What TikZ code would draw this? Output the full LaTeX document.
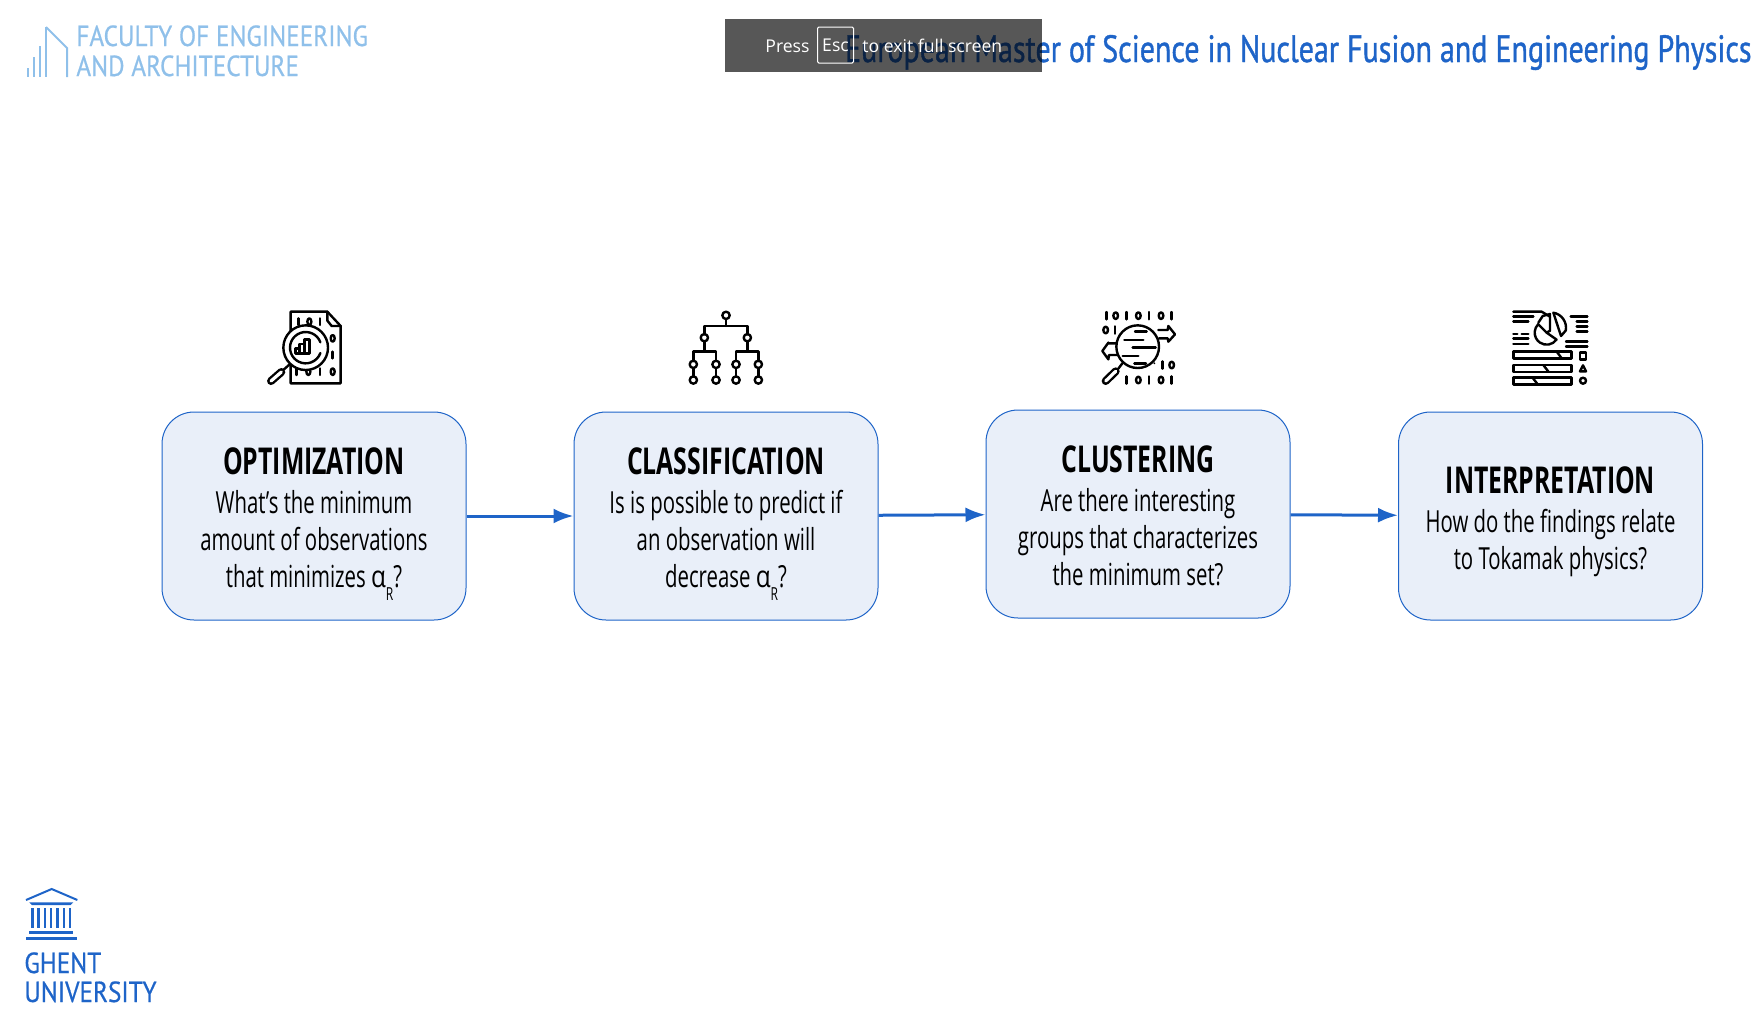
\documentclass[tikz,border=0pt]{standalone}
\usepackage{fontspec}
\usepackage{tikz}
\usetikzlibrary{arrows.meta,positioning}
\setmainfont{Open Sans}[FakeStretch=0.67]
\newfontfamily\PlainFont{Open Sans}
\newfontfamily\AlphaFont{Open Sans}[FakeStretch=0.8]
\newfontfamily\BrandFont{PT Sans}[FakeStretch=0.87,FakeBold=0.6]
\newfontfamily\TitleFont{PT Sans}[FakeStretch=0.79,FakeBold=1]
\definecolor{UGentBlue}{HTML}{1E64C8}
\definecolor{UGentSky}{HTML}{8FC0EA}
\definecolor{BoxFill}{HTML}{E9EFF9}
\newcommand{\AlphaR}{{\AlphaFont α}\smash{\raisebox{-6.5pt}{\fontsize{9}{9}\selectfont R}}}
\newcommand{\BoxHead}[1]{{\rule{0pt}{15.2pt}\fontsize{18.5}{18.4}\selectfont\bfseries #1}}

\begin{document}
\begin{tikzpicture}[x=.5pt,y=-.5pt]
	\tikzstyle{Box}		= [rectangle, rounded corners=16pt, draw=UGentBlue, line width=.5pt, fill=BoxFill, minimum width=152pt, minimum height=104pt, inner sep=0pt, align=center, font=\fontsize{15.2}{18.4}\selectfont]
	\tikzstyle{Flow}	= [-{Latex[length=10pt,width=7.5pt]}, line width=1.5pt, UGentBlue]
	\tikzstyle{IconGrid}	= [x=.1667pt, y=-.1667pt]
	\tikzstyle{Icon}	= [line width=1.2pt, black, line cap=round, line join=round]
	\tikzstyle{Brand}	= [anchor=base west, inner sep=0pt, font=\BrandFont\fontsize{14.5}{15}\selectfont, text=UGentSky]
	\tikzstyle{Hint}	= [anchor=base west, inner sep=0pt, text=white, font=\PlainFont\fontsize{8.8}{10}\selectfont]

	\useasboundingbox (0,0) rectangle (1763,1019);

	% steps
	\node (OptBox) at (314,516) [Box] {\BoxHead{OPTIMIZATION}\\[1pt]What’s the minimum\\amount of observations\\that minimizes \AlphaR?};
	\node (ClassBox) at (726,516) [Box] {\BoxHead{CLASSIFICATION}\\[1pt]Is is possible to predict if\\an observation will\\decrease \AlphaR?};
	\node (ClustBox) at (1138,514) [Box] {\BoxHead{CLUSTERING}\\[1pt]Are there interesting\\groups that characterizes\\the minimum set?};
	\node (InterpBox) at (1550.5,516) [Box] {\rule{0pt}{19pt}\BoxHead{INTERPRETATION}\\[1pt]How do the findings relate\\to Tokamak physics?};
	\draw [Flow] (OptBox) -- (ClassBox);
	\draw [Flow] (ClassBox) -- (ClustBox);
	\draw [Flow] (ClustBox) -- (InterpBox);

	% header
	\node (Title) at (1752,62) [anchor=base east, inner sep=0pt, text=UGentBlue, font=\TitleFont\fontsize{19}{20}\selectfont] {European Master of Science in Nuclear Fusion and Engineering Physics};
	\node (Faculty) at (76,46) [Brand] {FACULTY OF ENGINEERING};
	\node (Arch) at (76,76) [Brand] {AND ARCHITECTURE};
	\draw [UGentSky, line width=1pt] (46,27) -- (67,48) -- (67,77);
	\foreach \x/\y in {28/68, 34/57, 40/46, 46/27}
		\draw [UGentSky, line width=1.2pt] (\x,\y) -- (\x,77);

	% university logo
	\node (Ghent) at (24,973) [Brand, text=UGentBlue] {GHENT};
	\node (Univ) at (24,1002) [Brand, text=UGentBlue] {UNIVERSITY};
	\begin{scope}[shift={(0,870)},IconGrid]
		\draw [UGentBlue, line width=1pt] (78,90) -- (155,57) -- (232,90);
		\fill [UGentBlue] (88,97) -- (220,97) -- (212,105) -- (96,105) -- cycle;
		\foreach \x in {97,115,134,153,172,191,209}
			\fill [UGentBlue] (\x-3.5,115) rectangle (\x+3.5,175);
		\fill [UGentBlue] (88,183) rectangle (220,191);
		\fill [UGentBlue] (78,201) rectangle (232,209);
	\end{scope}

	% icon: report under a lens
	\begin{scope}[shift={(250,300)},IconGrid,Icon]
		\draw (122,250) -- (122,35) -- (232,35) -- (272,78) -- (272,250) -- cycle;
		\draw (232,35) -- (232,62) -- (245,78) -- (272,78);
		\foreach \x/\y in {145/65, 210/65, 248/165, 140/215, 210/215}
			\draw (\x,\y-10) -- (\x,\y+10);
		\foreach \x/\y in {178/65, 248/115, 175/215, 248/215}
			\draw (\x,\y) ellipse (6 and 10);
		\draw [fill=white] (167,143) circle (67);
		\draw (167,143) ++(-20:47) arc[start angle=-20, end angle=-340, radius=47];
		\draw (136,160) rectangle (148,145) (148,160) rectangle (163,132) (163,160) rectangle (178,118);
		\draw (120,192) -- (102,208);
		\draw [line width=4pt] (94,216) -- (63,243);
		\draw [white, line width=1.6pt] (94,216) -- (63,243);
	\end{scope}

	% icon: tree
	\begin{scope}[shift={(670,300)},IconGrid,Icon]
		\draw (168,57) -- (168,78);
		\draw (103,103) -- (103,78) -- (232,78) -- (232,103);
		\draw (103,124) -- (103,155);
		\draw (232,124) -- (232,155);
		\draw (70,183) -- (70,155) -- (138,155) -- (138,183);
		\draw (198,183) -- (198,155) -- (265,155) -- (265,183);
		\foreach \x in {70,138,198,265} {
			\draw (\x,204) -- (\x,229);
			\draw (\x,193) circle (11);
			\draw (\x,240) circle (11);
		}
		\foreach \x/\y in {168/46, 103/113, 232/113}
			\draw (\x,\y) circle (11);
	\end{scope}

	% icon: clusters under a lens
	\begin{scope}[shift={(1085,300)},IconGrid,Icon]
		\foreach \x/\y in {65/47, 125/47, 192/47, 260/47, 90/90, 232/195, 125/240, 192/240, 260/240}
			\draw (\x,\y-11) -- (\x,\y+11);
		\foreach \x/\y in {92/47, 160/47, 228/47, 62/90, 260/195, 160/240, 228/240}
			\draw (\x,\y) ellipse (7 and 10);
		\draw (220,90) -- (248,90) -- (250,78) -- (270,103) -- (250,125) -- (248,115) -- (222,115);
		\draw (98,130) -- (72,130) -- (70,128) -- (52,153) -- (70,178) -- (72,165) -- (100,165);
		\draw [fill=white] (158,140) circle (64);
		\foreach \a/\b/\c in {150/185/95, 118/175/120, 143/212/143, 113/160/168, 148/183/190}
			\draw (\a,\c) -- (\b,\c);
		\fill (208,190) circle (3);
		\draw (112,190) -- (100,206);
		\draw [line width=4pt] (92,214) -- (62,243);
		\draw [white, line width=1.6pt] (92,214) -- (62,243);
	\end{scope}

	% icon: pie chart and bars
	\begin{scope}[shift={(1500,300)},IconGrid,Icon]
		\draw (40,35) -- (125,35) -- (150,50);
		\draw (40,50) -- (100,50);
		\draw (40,65) -- (85,65);
		\draw (40,102) -- (52,102);
		\draw (65,102) -- (85,102);
		\draw (40,116) -- (85,116);
		\draw (40,132) -- (85,132);
		\foreach \a/\c in {212/50, 230/65, 230/80, 230/95, 198/125, 198/140}
			\draw (\a,\c) -- (262,\c);
		\draw (140,98) ++(35:36) arc[start angle=35, end angle=225, radius=36] -- (140,98) -- cycle;
		\draw (115,68) -- (128,48) -- (150,42) -- (150,92) -- (140,98);
		\draw (160,38) arc[start angle=-80, end angle=10, radius=46] -- (183,108) -- cycle;
		\foreach \c/\a in {155/170, 195/130, 232/97} {
			\draw (40,\c) rectangle (215,\c+21);
			\draw (\a,\c) -- (\a+16,\c+21);
		}
		\draw (240,158) rectangle (258,178);
		\draw (240,214) -- (258,214) -- (249,196) -- cycle;
		\draw (249,242) circle (9);
	\end{scope}

	% full screen hint
	\node (Hint) at (883.5,45.5) [rectangle, minimum width=158.5pt, minimum height=26.5pt, inner sep=0pt, fill=black, fill opacity=.66] {};
	\node (Press) at (765,52) [Hint] {Press};
	\node (Esc) at (835.5,45) [rectangle, minimum width=18pt, minimum height=18pt, inner sep=0pt, draw=white, line width=.5pt, rounded corners=.7pt, text=white, font=\PlainFont\fontsize{8.8}{10}\selectfont] {Esc};
	\node (Exit) at (862,52) [Hint] {to exit full screen};
\end{tikzpicture}
\end{document}
